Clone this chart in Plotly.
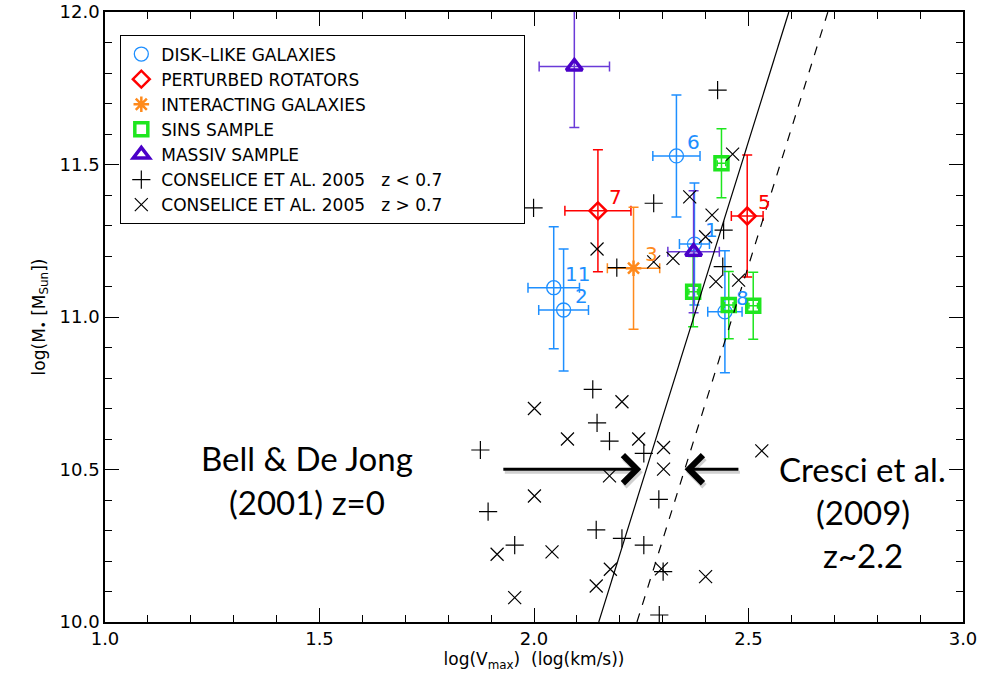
import plotly.graph_objects as go

# ---------------- data ----------------
disk_x = [2.374, 2.069, 2.332, 2.445, 2.046]
disk_y = [11.239, 11.023, 11.528, 11.017, 11.096]
disk_xerr = [0.035, 0.058, 0.055, 0.040, 0.060]
disk_yerr = [0.20, 0.20, 0.20, 0.20, 0.20]
disk_ids = ["1", "2", "6", "8", "11"]

pert_x = [2.149, 2.497]
pert_y = [11.348, 11.331]
pert_xerr = [0.077, 0.037]
pert_yerr = [0.20, 0.20]
pert_ids = ["7", "5"]

inter_x = [2.232]
inter_y = [11.160]
inter_xerr = [0.061]
inter_yerr = [0.20]
inter_ids = ["3"]

sins_x = [2.437, 2.371, 2.454, 2.511]
sins_y = [11.504, 11.083, 11.039, 11.037]
sins_xerr = [0.010, 0.010, 0.010, 0.010]
sins_yerr = [0.113, 0.115, 0.110, 0.110]

massiv_x = [2.094, 2.372]
massiv_y = [11.821, 11.214]
massiv_xerr = [0.082, 0.060]
massiv_yerr = [0.20, 0.20]

cons_lo_x = [2.428, 1.999, 2.279, 2.442, 2.193, 2.440, 2.137, 2.147, 2.176, 1.875,
             2.256, 2.291, 1.893, 2.145, 1.955, 2.205, 2.256, 2.301, 2.292]
cons_lo_y = [11.744, 11.358, 11.373, 11.285, 11.162, 11.165, 10.763, 10.653, 10.593, 10.564,
             10.553, 10.402, 10.362, 10.302, 10.252, 10.274, 10.252, 10.165, 10.023]

cons_hi_x = [2.463, 2.363, 2.415, 2.400, 2.147, 2.279, 2.324, 2.424, 2.477, 2.531,
             2.001, 2.205, 2.078, 2.244, 2.302, 2.302, 2.176, 2.001, 1.914, 2.042,
             2.178, 2.297, 2.145, 2.400, 1.955]
cons_hi_y = [11.534, 11.394, 11.334, 11.263, 11.223, 11.181, 11.192, 11.116, 11.121, 10.561,
             10.700, 10.722, 10.600, 10.600, 10.572, 10.501, 10.479, 10.413, 10.222, 10.230,
             10.173, 10.174, 10.118, 10.149, 10.080]

bell_x = [2.151, 2.594]
bell_y = [10.0, 12.0]
cresci_x = [2.240, 2.685]
cresci_y = [10.0, 12.0]

x_ticks = [1.0, 1.5, 2.0, 2.5, 3.0]
y_ticks = [10.0, 10.5, 11.0, 11.5, 12.0]

# ---------------- styles ----------------
BLUE = "#1E8FFF"
RED = "#FF0000"
ORANGE = "#FF8A1C"
GREEN = "#1EE61E"
PURPLE = "#4A00C8"
PURPLE_ERR = "#6A3AD8"
FONT = "DejaVu Sans"
PAD = "\u00a0" * 14

fig = go.Figure()


def err(arr, color, width=5, thick=1.5):
    return dict(type="data", array=arr, color=color, thickness=thick, width=width, visible=True)


fig.add_trace(go.Scatter(
    x=disk_x, y=disk_y, mode="markers", name="DISK\u2013LIKE GALAXIES",
    marker=dict(symbol="circle-open", size=14, color=BLUE, line=dict(width=1.3, color=BLUE)),
    error_x=err(disk_xerr, BLUE), error_y=err(disk_yerr, BLUE)))

fig.add_trace(go.Scatter(
    x=pert_x, y=pert_y, mode="markers", name="PERTURBED ROTATORS",
    marker=dict(symbol="diamond-open", size=13, color=RED, line=dict(width=2.5, color=RED)),
    error_x=err(pert_xerr, RED), error_y=err(pert_yerr, RED)))

fig.add_trace(go.Scatter(
    x=inter_x, y=inter_y, mode="markers", name="INTERACTING GALAXIES",
    marker=dict(symbol="asterisk-open", size=13, color=ORANGE, line=dict(width=2.5, color=ORANGE)),
    error_x=err(inter_xerr, ORANGE), error_y=err(inter_yerr, ORANGE)))

fig.add_trace(go.Scatter(
    x=sins_x, y=sins_y, mode="markers", name="SINS SAMPLE",
    marker=dict(symbol="square-open", size=13, color=GREEN, line=dict(width=3.5, color=GREEN)),
    error_x=err(sins_xerr, GREEN, width=3), error_y=err(sins_yerr, GREEN)))

fig.add_trace(go.Scatter(
    x=massiv_x, y=massiv_y, mode="markers", name="MASSIV SAMPLE",
    marker=dict(symbol="triangle-up-open", size=14, color=PURPLE, line=dict(width=3.5, color=PURPLE)),
    error_x=err(massiv_xerr, PURPLE_ERR), error_y=err(massiv_yerr, PURPLE_ERR)))

fig.add_trace(go.Scatter(
    x=cons_lo_x, y=cons_lo_y, mode="markers",
    name="CONSELICE ET AL. 2005\u00a0\u00a0\u00a0z < 0.7" + PAD,
    marker=dict(symbol="cross-thin", size=13, color="black", line=dict(width=1.2, color="black"))))

fig.add_trace(go.Scatter(
    x=cons_hi_x, y=cons_hi_y, mode="markers",
    name="CONSELICE ET AL. 2005\u00a0\u00a0\u00a0z > 0.7" + PAD,
    marker=dict(symbol="x-thin", size=13, color="black", line=dict(width=1.2, color="black"))))

fig.add_trace(go.Scatter(
    x=bell_x, y=bell_y, mode="lines", showlegend=False,
    line=dict(color="black", width=1.2)))
fig.add_trace(go.Scatter(
    x=cresci_x, y=cresci_y, mode="lines", showlegend=False,
    line=dict(color="black", width=1.2, dash="dash")))

# point labels
annotations = []
for xs, ys, ids, col in [(disk_x, disk_y, disk_ids, BLUE),
                         (pert_x, pert_y, pert_ids, RED),
                         (inter_x, inter_y, inter_ids, ORANGE)]:
    for xv, yv, t in zip(xs, ys, ids):
        annotations.append(dict(x=xv, y=yv, xref="x", yref="y", text=t, showarrow=False,
                                xanchor="left", yanchor="middle", xshift=9, yshift=14,
                                font=dict(family=FONT, size=20, color=col)))

# relation labels and arrows
TXT = dict(family="Lato", size=33, color="black")
annotations += [
    dict(x=1.471, y=10.537, xref="x", yref="y", text="Bell & De Jong", showarrow=False, font=TXT),
    dict(x=1.471, y=10.395, xref="x", yref="y", text="(2001) z=0", showarrow=False, font=TXT),
    dict(x=2.766, y=10.501, xref="x", yref="y", text="Cresci et al.", showarrow=False, font=TXT),
    dict(x=2.768, y=10.360, xref="x", yref="y", text="(2009)", showarrow=False, font=TXT),
    dict(x=2.766, y=10.219, xref="x", yref="y", text="z~2.2", showarrow=False, font=TXT),
]
for shadow in (True, False):
    col = "rgba(0,0,0,0.18)" if shadow else "black"
    sh = -3 if shadow else 0
    annotations.append(dict(x=2.250, y=10.501, ax=1.925, ay=10.501, xref="x", yref="y",
                            axref="x", ayref="y", text="", showarrow=True, arrowhead=4,
                            arrowsize=1.8, arrowwidth=3, arrowcolor=col, yshift=sh, xshift=-sh * 0.5))
    annotations.append(dict(x=2.351, y=10.501, ax=2.480, ay=10.501, xref="x", yref="y",
                            axref="x", ayref="y", text="", showarrow=True, arrowhead=4,
                            arrowsize=1.8, arrowwidth=3, arrowcolor=col, yshift=sh, xshift=-sh * 0.5))

axis_common = dict(showline=True, linewidth=1.5, linecolor="black", mirror="allticks",
                   ticks="inside", ticklen=14, tickwidth=1.3, tickcolor="black",
                   showgrid=False, zeroline=False, tickformat=".1f", automargin=False,
                   tickfont=dict(family=FONT, size=18, color="black"))

fig.update_xaxes(range=[1.0, 3.0], tickvals=x_ticks,
                 minor=dict(dtick=0.1, ticks="inside", ticklen=7, tickwidth=1.2, tickcolor="black"),
                 title=dict(text="log(V<sub>max</sub>)  (log(km/s))", standoff=4,
                            font=dict(family=FONT, size=17, color="black")),
                 **axis_common)
fig.update_yaxes(range=[10.0, 12.0], tickvals=y_ticks,
                 minor=dict(dtick=0.1, ticks="inside", ticklen=7, tickwidth=1.2, tickcolor="black"),
                 title=dict(text="log(M<sub>\u2022</sub> [M<sub>Sun</sub>])", standoff=10,
                            font=dict(family=FONT, size=17, color="black")),
                 **axis_common)

fig.update_layout(
    width=982, height=688,
    margin=dict(l=105, r=19, t=12, b=66),
    paper_bgcolor="white", plot_bgcolor="white",
    annotations=annotations,
    legend=dict(x=0.0175, y=0.962, xanchor="left", yanchor="top",
                bordercolor="black", borderwidth=1.3, bgcolor="white",
                font=dict(family=FONT, size=17, color="black"),
                itemwidth=30, tracegroupgap=0),
)

fig.write_html("out.html")
